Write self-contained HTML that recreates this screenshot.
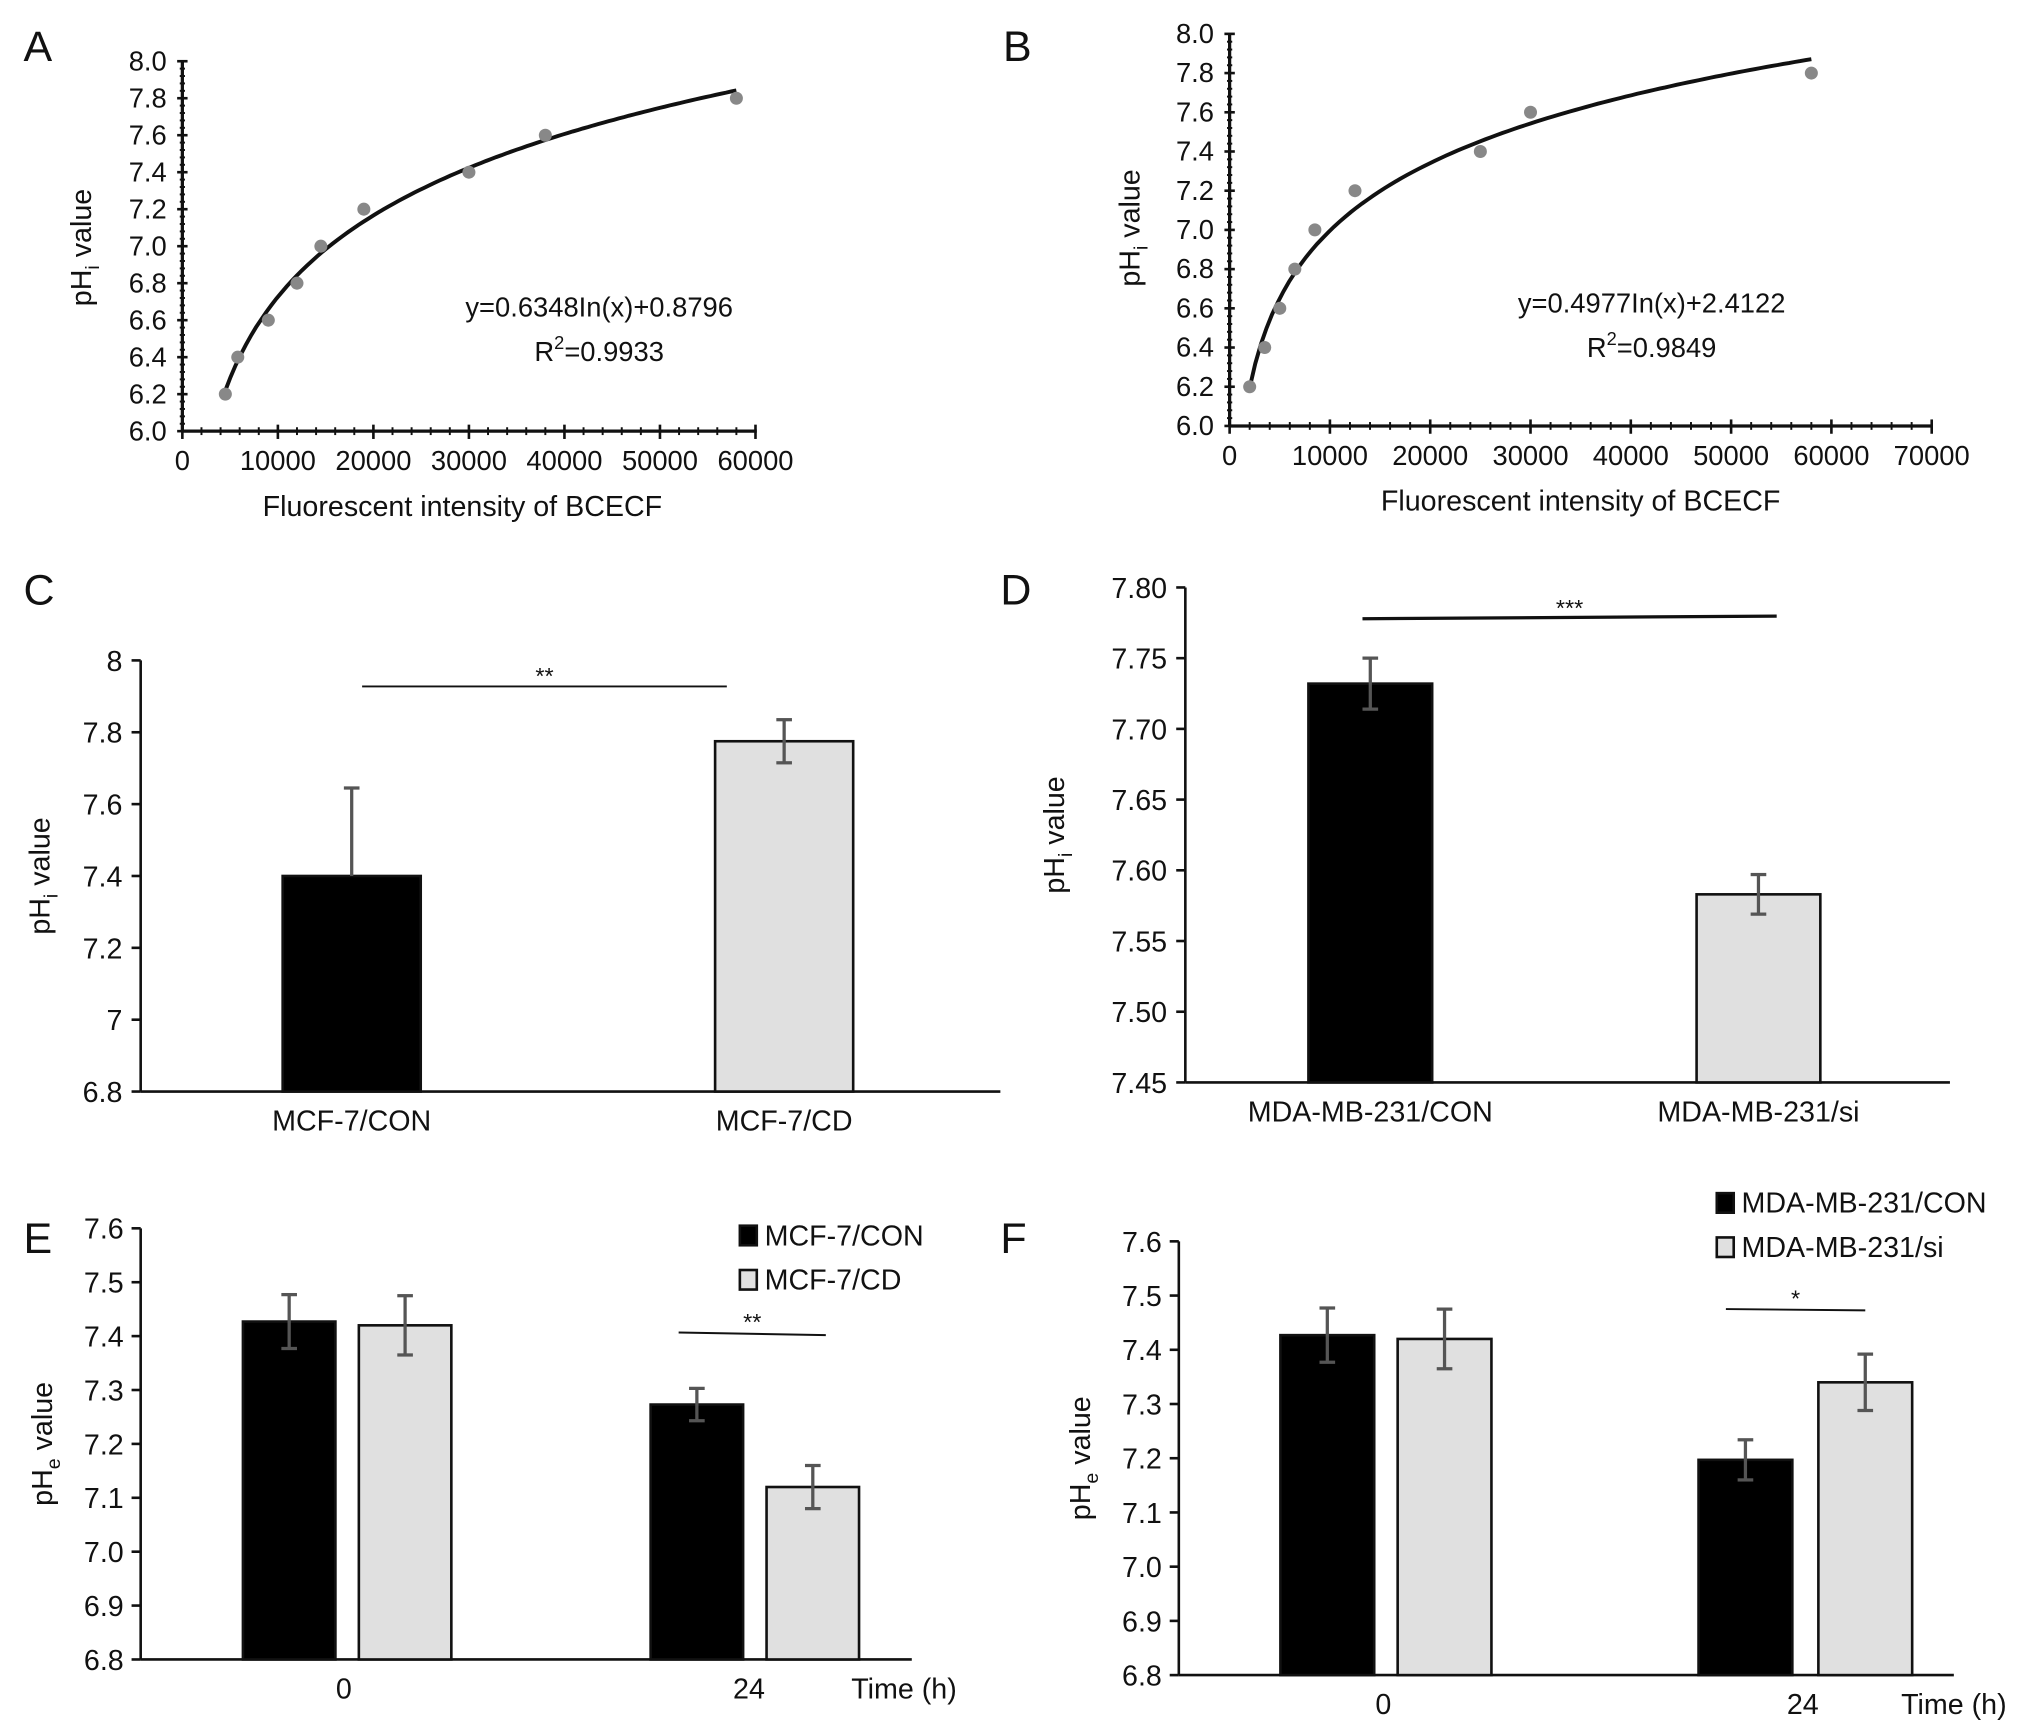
<!DOCTYPE html>
<html><head><meta charset="utf-8"><style>
html,body{margin:0;padding:0;background:#fff}
svg{display:block}
text{font-family:"Liberation Sans",sans-serif;fill:#111}
</style></head><body>
<svg id="fig" width="2032" height="1722" viewBox="0 0 1560 1322" xmlns="http://www.w3.org/2000/svg"></svg>
<script>
// Panel A data
const aX=[4500,5800,9000,12000,14500,19000,30000,38000,58000];
const aY=[6.2,6.4,6.6,6.8,7.0,7.2,7.4,7.6,7.8];
const aFit=[0.6348,0.8796];
const aXTicks=[0,10000,20000,30000,40000,50000,60000];
const aYTicks=[6.0,6.2,6.4,6.6,6.8,7.0,7.2,7.4,7.6,7.8,8.0];
// Panel B data
const bX=[2000,3500,5000,6500,8500,12500,25000,30000,58000];
const bY=[6.2,6.4,6.6,6.8,7.0,7.2,7.4,7.6,7.8];
const bFit=[0.4977,2.4122];
const bXTicks=[0,10000,20000,30000,40000,50000,60000,70000];
const bYTicks=aYTicks;
// Panel C
const cCats=["MCF-7/CON","MCF-7/CD"];
const cVals=[7.40,7.775];
const cErr=[0.245,0.06];
const cYTicks=[6.8,7,7.2,7.4,7.6,7.8,8];
const cYLabels=["6.8","7","7.2","7.4","7.6","7.8","8"];
// Panel D
const dCats=["MDA-MB-231/CON","MDA-MB-231/si"];
const dVals=[7.732,7.583];
const dErr=[0.018,0.014];
const dYTicks=[7.45,7.50,7.55,7.60,7.65,7.70,7.75,7.80];
// Panel E
const eGroups=["0","24"];
const eCon=[7.427,7.273];
const eConErr=[0.05,0.03];
const eCd=[7.42,7.12];
const eCdErr=[0.055,0.04];
const peYTicks=[6.8,6.9,7.0,7.1,7.2,7.3,7.4,7.5,7.6];
// Panel F
const fCon=[7.427,7.197];
const fConErr=[0.05,0.037];
const fSi=[7.42,7.34];
const fSiErr=[0.055,0.052];

const svg=document.getElementById('fig');
const NS="http://www.w3.org/2000/svg";
function el(tag,attrs,parent){const e=document.createElementNS(NS,tag);for(const k in attrs)e.setAttribute(k,attrs[k]);(parent||svg).appendChild(e);return e;}
function txt(s,x,y,size,anchor,parent){const t=el('text',{x:x,y:y,'font-size':size,'text-anchor':anchor||'middle'},parent);t.textContent=s;return t;}
function lin(d0,d1,r0,r1){return v=>r0+(v-d0)/(d1-d0)*(r1-r0);}
function grp(name){const g=el('g',{});return g;}

[["A",18,47],["B",770,47],["C",18,464],["D",768,464],["E",18,962],["F",768,962]].forEach(p=>{
  const t=txt(p[0],p[1],p[2],33,'start');
  
  
});

function scatter(name,X,Y,fit,xt,yt,xr,yr,eqx,eqy,eq,r2,xmin){
  const g=grp(name);
  const sx=lin(xr[0],xr[1],xr[2],xr[3]), sy=lin(yr[0],yr[1],yr[2],yr[3]);
  el('line',{x1:xr[2],y1:yr[2],x2:xr[3]+1,y2:yr[2],stroke:'#111','stroke-width':2.5},g);
  el('line',{x1:xr[2],y1:yr[2],x2:xr[2],y2:yr[3],stroke:'#111','stroke-width':2.5},g);
  for(let i=0;i<yt.length;i++){
    const y=sy(yt[i]);
    el('line',{x1:xr[2]-4,y1:y,x2:xr[2]+4,y2:y,stroke:'#111','stroke-width':2},g);
    if(i<yt.length-1){for(let k=1;k<5;k++){const yy=y+(sy(yt[i+1])-y)*k/5;el('line',{x1:xr[2]-2,y1:yy,x2:xr[2]+2,y2:yy,stroke:'#111','stroke-width':1.5},g);}}
    const t=txt(yt[i].toFixed(1),xr[2]-12,y+7,21,'end',g);
    
  }
  for(let i=0;i<xt.length;i++){
    const x=sx(xt[i]);
    el('line',{x1:x,y1:yr[2]-5,x2:x,y2:yr[2]+6,stroke:'#111','stroke-width':2},g);
    if(i<xt.length-1){for(let k=1;k<5;k++){const xx=x+(sx(xt[i+1])-x)*k/5;el('line',{x1:xx,y1:yr[2]-3,x2:xx,y2:yr[2]+3,stroke:'#111','stroke-width':1.5},g);}}
    const t=txt(String(xt[i]),x,yr[2]+30,21,'middle',g);
    
  }
  let d='';
  for(let i=0;i<=100;i++){const xv=xmin+(X[X.length-1]-xmin)*i/100;const yv=fit[0]*Math.log(xv)+fit[1];d+=(i?'L':'M')+sx(xv).toFixed(1)+','+sy(yv).toFixed(1);}
  const c=el('path',{d:d,fill:'none',stroke:'#111','stroke-width':3},g);
  
  for(let i=0;i<X.length;i++){
    const p=el('circle',{cx:sx(X[i]),cy:sy(Y[i]),r:5,fill:'#888'},g);
    
  }
  const e1=txt(eq,eqx,eqy,21,'middle',g);
  const e2=el('text',{x:eqx,y:eqy+34,'font-size':21,'text-anchor':'middle'},g);
  
  e2.innerHTML='R<tspan dy="-9" font-size="14">2</tspan><tspan dy="9">='+r2+'</tspan>';
  const xt2=txt('Fluorescent intensity of BCECF',(xr[2]+xr[3])/2+(name==='panel-a'?-5:0),yr[2]+65,22,'middle',g);
  
  return g;
}
function yTitle(g,x,y,sub){
  const t=el('text',{x:x,y:y,'font-size':22,'text-anchor':'middle',transform:'rotate(-90 '+x+' '+y+')'},g);
  
  t.innerHTML='pH<tspan dy="6" font-size="15">'+sub+'</tspan><tspan dy="-6"> value</tspan>';
}
const gA=scatter('panel-a',aX,aY,aFit,aXTicks,aYTicks,[0,60000,140,580],[6.0,8.0,331,47],460,243,'y=0.6348In(x)+0.8796','0.9933',aX[0]);
yTitle(gA,70,190,'i');
const gB=scatter('panel-b',bX,bY,bFit,bXTicks,bYTicks,[0,70000,944,1483],[6.0,8.0,327,26],1268,240,'y=0.4977In(x)+2.4122','0.9849',bX[0]);
yTitle(gB,875,175,'i');

function barSingle(name,cats,vals,errs,ticks,labels,ax,yr,xEnd,centers,bw,sub,titleX,sig,noLower){
  const g=grp(name);
  const sy=lin(yr[0],yr[1],yr[2],yr[3]);
  el('line',{x1:ax,y1:yr[2],x2:ax,y2:yr[3],stroke:'#111','stroke-width':2},g);
  el('line',{x1:ax,y1:yr[2],x2:xEnd,y2:yr[2],stroke:'#111','stroke-width':2},g);
  ticks.forEach((v,i)=>{const y=sy(v);el('line',{x1:ax-7,y1:y,x2:ax,y2:y,stroke:'#111','stroke-width':2},g);
    const t=txt(labels[i],ax-14,y+8,22,'end',g);});
  cats.forEach((c,i)=>{
    const top=sy(vals[i]);
    const b=el('rect',{x:centers[i]-bw/2,y:top,width:bw,height:yr[2]-top,fill:i?'#e0e0e0':'#000',stroke:'#111','stroke-width':2},g);
    
    const e1=sy(vals[i]+errs[i]),e2=(noLower&&noLower[i])?top:sy(vals[i]-errs[i]);
    el('line',{x1:centers[i],y1:e1,x2:centers[i],y2:e2,stroke:'#555','stroke-width':2.5},g);
    el('line',{x1:centers[i]-6,y1:e1,x2:centers[i]+6,y2:e1,stroke:'#555','stroke-width':2.5},g);
    if(!(noLower&&noLower[i]))el('line',{x1:centers[i]-6,y1:e2,x2:centers[i]+6,y2:e2,stroke:'#555','stroke-width':2.5},g);
    const t=txt(c,centers[i],yr[2]+30,22,'middle',g);
  });
  const s=el('line',{x1:sig[0],y1:sig[1],x2:sig[2],y2:sig[3],stroke:'#111','stroke-width':sig[6]},g);
  
  const st=txt(sig[4],(sig[0]+sig[2])/2,sig[1]-2,18,'middle',g);
  yTitle(g,titleX,(yr[2]+yr[3])/2,sub);
  return g;
}
barSingle('panel-c',cCats,cVals,cErr,cYTicks,cYLabels,108,[6.8,8,838,507],768,[270,602],106,'i',38,[278,527,558,527,'**',0,1.5],[true,false]);
barSingle('panel-d',dCats,dVals,dErr,dYTicks,dYTicks.map(v=>v.toFixed(2)),910,[7.45,7.80,831,451],1497,[1052,1350],95,'i',817,[1046,475,1364,473,'***',0,2.5]);

function barGroup(name,groups,s1,e1,s2,e2,names,ax,yr,xEnd,c1,c2,bw,labelX,timeX,leg,sig){
  const g=grp(name);
  const sy=lin(yr[0],yr[1],yr[2],yr[3]);
  el('line',{x1:ax,y1:yr[2],x2:ax,y2:yr[3],stroke:'#111','stroke-width':2},g);
  el('line',{x1:ax,y1:yr[2],x2:xEnd,y2:yr[2],stroke:'#111','stroke-width':2},g);
  peYTicks.forEach(v=>{const y=sy(v);el('line',{x1:ax-7,y1:y,x2:ax,y2:y,stroke:'#111','stroke-width':2},g);
    const t=txt(v.toFixed(1),ax-13,y+8,22,'end',g);});
  function bar(x,v,e,fill,nm){
    const top=sy(v);
    const b=el('rect',{x:x-bw/2,y:top,width:bw,height:yr[2]-top,fill:fill,stroke:'#111','stroke-width':2},g);
    
    const a=sy(v+e),c=sy(v-e);
    el('line',{x1:x,y1:a,x2:x,y2:c,stroke:'#555','stroke-width':2.5},g);
    el('line',{x1:x-6,y1:a,x2:x+6,y2:a,stroke:'#555','stroke-width':2.5},g);
    el('line',{x1:x-6,y1:c,x2:x+6,y2:c,stroke:'#555','stroke-width':2.5},g);
  }
  groups.forEach((gr,i)=>{
    bar(c1[i],s1[i],e1[i],'#000','bar-con-'+gr+'h');
    bar(c2[i],s2[i],e2[i],'#e0e0e0','bar-treated-'+gr+'h');
    const t=txt(gr,labelX[i],yr[2]+30,22,'middle',g);
  });
  const tt=txt('Time (h)',timeX,yr[2]+30,22,'middle',g);
  names.forEach((n,i)=>{
    const lg=el('g',{},g);
    el('rect',{x:leg[0],y:leg[1]+i*34-14,width:13,height:15,fill:i?'#e0e0e0':'#000',stroke:'#111','stroke-width':2},lg);
    txt(n,leg[0]+19,leg[1]+i*34+1,22,'start',lg);
  });
  const s=el('line',{x1:sig[0],y1:sig[1],x2:sig[2],y2:sig[3],stroke:'#111','stroke-width':1.5},g);
  
  const st=txt(sig[4],(sig[0]+sig[2])/2,sig[1]-2,18,'middle',g);
  yTitle(g,ax-68,(yr[2]+yr[3])/2,'e');
}
barGroup('panel-e',eGroups,eCon,eConErr,eCd,eCdErr,['MCF-7/CON','MCF-7/CD'],108,[6.8,7.6,1274,943],700,[222,535],[311,624],71,[264,575],694,[568,955],[521,1023,634,1025,'**']);
barGroup('panel-f',eGroups,fCon,fConErr,fSi,fSiErr,['MDA-MB-231/CON','MDA-MB-231/si'],905,[6.8,7.6,1286,953],1500,[1019,1340],[1109,1432],72,[1062,1384],1500,[1318,930],[1325,1005,1432,1006,'*']);
</script>
</body></html>
